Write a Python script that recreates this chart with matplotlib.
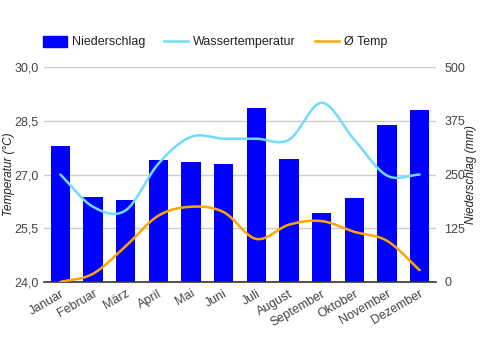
import numpy as np
import matplotlib
matplotlib.use("Agg")
import matplotlib.pyplot as plt
from matplotlib.patches import Patch
from matplotlib.lines import Line2D

plt.rcParams['font.family'] = ['Liberation Sans', 'DejaVu Sans']

months = ["Januar", "Februar", "März", "April", "Mai", "Juni", "Juli",
          "August", "September", "Oktober", "November", "Dezember"]
niederschlag = [317, 198, 191, 284, 280, 275, 405, 287, 161, 196, 366, 401]
wassertemp = [27.0, 26.1, 26.0, 27.3, 28.05, 28.0, 28.0, 27.97, 29.0, 27.97, 26.97, 27.0]
temp = [24.0, 24.23, 25.0, 25.85, 26.1, 25.95, 25.2, 25.6, 25.7, 25.4, 25.15, 24.33]

temp_ticks = [24.0, 25.5, 27.0, 28.5, 30.0]
rain_ticks = [0, 125, 250, 375, 500]


def smooth(y, n=20):
    # Catmull-Rom curve through the points, just for the drawn line
    y = np.asarray(y, dtype=float)
    p = np.concatenate([[2 * y[0] - y[1]], y, [2 * y[-1] - y[-2]]])
    xs, ys = [], []
    for i in range(len(y) - 1):
        p0, p1, p2, p3 = p[i], p[i + 1], p[i + 2], p[i + 3]
        t = np.linspace(0, 1, n, endpoint=False)
        ys.append(0.5 * ((2 * p1) + (-p0 + p2) * t
                         + (2 * p0 - 5 * p1 + 4 * p2 - p3) * t ** 2
                         + (-p0 + 3 * p1 - 3 * p2 + p3) * t ** 3))
        xs.append(i + t)
    xs.append([len(y) - 1])
    ys.append([y[-1]])
    return np.concatenate(xs), np.concatenate(ys)


text_col = "#444444"
bar_col = "#0000ff"
water_col = "#70dcff"
temp_col = "#ffa500"

fig = plt.figure(figsize=(4.81, 3.5), dpi=100)
ax = fig.add_axes([44 / 481, 68 / 350, 392 / 481, 215 / 350])
ax2 = ax.twinx()
ax.set_zorder(ax2.get_zorder() + 1)
ax.patch.set_visible(False)

x = np.arange(len(months))
ax2.bar(x, niederschlag, width=0.6, color=bar_col, zorder=2)
ax2.set_ylim(0, 500)
ax2.set_yticks(rain_ticks)
ax2.set_yticklabels([str(v) for v in rain_ticks])
ax2.grid(axis='y', color="#cccccc", linewidth=1, zorder=0)
ax2.set_axisbelow(True)

xs, ys = smooth(wassertemp)
ax.plot(xs, ys, color=water_col, linewidth=1.8, solid_capstyle='round')
xs, ys = smooth(temp)
ax.plot(xs, ys, color=temp_col, linewidth=1.8, solid_capstyle='round')
ax.set_ylim(24.0, 30.0)
ax.set_xlim(-0.5, len(months) - 0.5)
ax.set_yticks(temp_ticks)
ax.set_yticklabels([f"{v:.1f}".replace(".", ",") for v in temp_ticks])
ax.set_xticks(x)
ax.set_xticklabels(months, rotation=30, ha='right', rotation_mode='anchor')

for a in (ax, ax2):
    for s in a.spines.values():
        s.set_visible(False)
    a.tick_params(length=0, colors=text_col, labelsize=9)
ax2.spines['bottom'].set_visible(True)
ax2.spines['bottom'].set_color("#333333")
ax2.spines['bottom'].set_linewidth(1.2)
ax.tick_params(axis='x', pad=4)
ax.tick_params(axis='y', pad=4)
ax2.tick_params(axis='y', pad=6)

ax.set_ylabel("Temperatur (°C)", style='italic', color="#222222", fontsize=8.5,
              va='center')
ax.yaxis.set_label_coords((9 - 44) / 392, 0.5)
ax2.set_ylabel("Niederschlag (mm)", style='italic', color="#222222", fontsize=8.5,
               rotation=90, va='center')
ax2.yaxis.set_label_coords((471 - 44) / 392, 0.5)

handles = [Patch(color=bar_col),
           Line2D([], [], color=water_col, linewidth=1.8),
           Line2D([], [], color=temp_col, linewidth=1.8)]
labels = ["Niederschlag", "Wassertemperatur", "Ø Temp"]
fig.legend(handles, labels, loc='center left', bbox_to_anchor=(43 / 481, 308 / 350),
           ncol=3, frameon=False, fontsize=9, handlelength=1.92, handleheight=0.96,
           handletextpad=0.4, columnspacing=1.5, labelcolor="#222222",
           borderpad=0, borderaxespad=0)

fig.savefig("out.png", dpi=100)
